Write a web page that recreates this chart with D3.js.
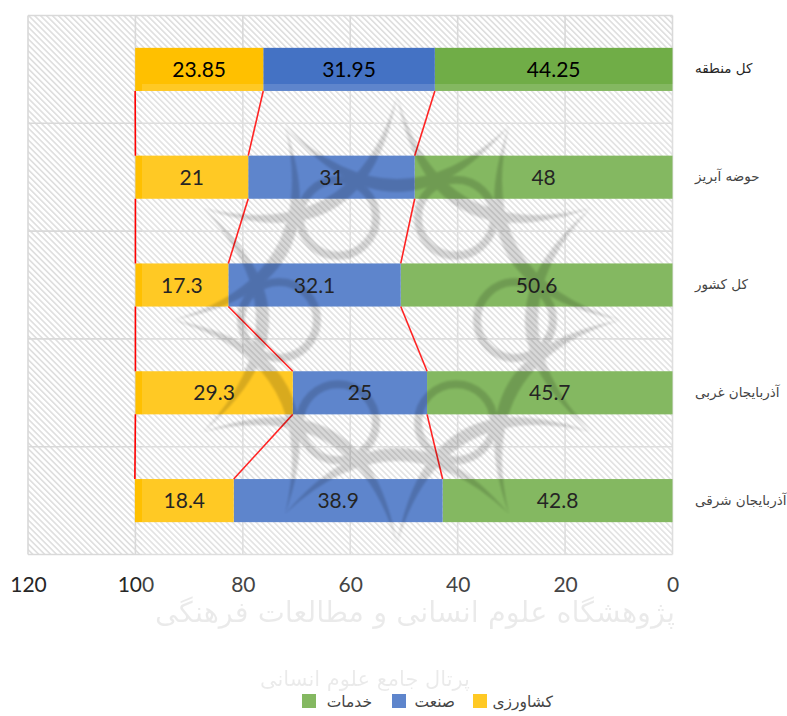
<!DOCTYPE html>
<html><head><meta charset="utf-8">
<script src="https://cdn.jsdelivr.net/npm/d3@7/dist/d3.min.js"></script>
<style>html,body{margin:0;padding:0;background:#fff;overflow:hidden}svg{display:block}</style>
</head><body><svg id="c" width="787" height="716"></svg>
<script>
const categories = ["کل منطقه","حوضه آبریز","کل کشور","آذربایجان غربی","آذربایجان شرقی"];
const seriesNames = ["خدمات","صنعت","کشاورزی"];
const services = [44.25,48,50.6,45.7,42.8];
const industry = [31.95,31,32.1,25,38.9];
const agriculture = [23.85,21,17.3,29.3,18.4];
const colors = ["#70AD47","#4472C4","#FFC000"];
const xTicks = [0,20,40,60,80,100,120];

const svg = d3.select("#c");
const L=28,R=672.5,T=15.5,B=554.5;
const x = d3.scaleLinear().domain([0,120]).range([R,L]);
const y = d3.scaleBand().domain(categories).range([T,B]).paddingInner(0.6).paddingOuter(0.3);
const step = y.step();

const defs = svg.append("defs");
const pat = defs.append("pattern").attr("id","hatch").attr("width",4.2).attr("height",4.2)
  .attr("patternUnits","userSpaceOnUse").attr("patternTransform","rotate(-45)");
pat.append("rect").attr("width",4.2).attr("height",4.2).attr("fill","#fff");
pat.append("rect").attr("width",1.6).attr("height",4.2).attr("fill","#dedede");
defs.append("filter").attr("id","soft").append("feGaussianBlur").attr("stdDeviation",1);

// plot background, gridlines
svg.append("rect").attr("x",L).attr("y",T).attr("width",R-L).attr("height",B-T).attr("fill","url(#hatch)");
const grid = svg.append("g").attr("stroke","#d9d9d9").attr("stroke-width",1.6);
xTicks.forEach(t=>grid.append("line").attr("x1",x(t)).attr("x2",x(t)).attr("y1",T).attr("y2",B));
categories.forEach((c,i)=>grid.append("line").attr("x1",L).attr("x2",R)
  .attr("y1",T+i*step).attr("y2",T+i*step));
grid.append("line").attr("x1",L).attr("x2",R).attr("y1",B).attr("y2",B);

// stacked bars
const rows = categories.map((c,i)=>({cat:c,0:services[i],1:industry[i],2:agriculture[i]}));
const stack = d3.stack().keys([0,1,2])(rows);
const g = svg.append("g");
stack.forEach((s,k)=>{
  g.selectAll(null).data(s).join("rect")
    .attr("x",d=>x(d[1])).attr("width",d=>x(d[0])-x(d[1]))
    .attr("y",d=>y(d.data.cat)).attr("height",y.bandwidth()).attr("fill",colors[k]);
});

// series lines between bars
stack.forEach(s=>{
  for(let i=0;i<s.length-1;i++){
    svg.append("line").attr("stroke","#ff0000").attr("stroke-width",1.6)
      .attr("x1",x(s[i][1])).attr("x2",x(s[i+1][1]))
      .attr("y1",y(s[i].data.cat)+y.bandwidth()).attr("y2",y(s[i+1].data.cat));
  }
});

// data labels
stack.forEach((s,k)=>{
  svg.selectAll(null).data(s).join("text")
    .attr("x",d=>(x(d[0])+x(d[1]))/2).attr("y",d=>y(d.data.cat)+y.bandwidth()/2+7.5)
    .attr("text-anchor","middle").attr("font-family","Lato").attr("font-size",21).attr("fill","#000")
    .text(d=>+(d[1]-d[0]).toFixed(2));
});

// axis
const ax = svg.append("g").attr("transform",`translate(0,${B})`)
  .call(d3.axisBottom(x).tickValues(xTicks).tickSize(0).tickPadding(23));
ax.select(".domain").remove();
ax.selectAll("text").attr("font-family","Lato").attr("font-size",21).attr("fill","#262626");

// category labels
svg.selectAll(null).data(categories).join("text")
  .attr("x",695).attr("y",d=>y(d)+y.bandwidth()/2+4)
  .attr("text-anchor","start").attr("font-family","DejaVu Sans").attr("font-size",13.5).attr("fill","#262626")
  .text(d=>d);

// legend
const legend = [{i:2,sx:473,tx:553},{i:1,sx:392,tx:455},{i:0,sx:302,tx:372}];
legend.forEach(l=>{
  svg.append("rect").attr("x",l.sx).attr("y",694).attr("width",14).attr("height",14).attr("fill",colors[l.i]);
  svg.append("text").attr("x",l.tx).attr("y",707).attr("text-anchor","end")
    .attr("font-family","DejaVu Sans").attr("font-size",15.5).attr("fill","#262626").text(seriesNames[l.i]);
});

// watermark veil and logo
svg.append("rect").attr("x",142).attr("y",84).attr("width",645).attr("height",632).attr("fill","#fff").attr("opacity",0.14);
const cx=397,cy=320,Rt=224;
const wm = svg.append("g").attr("transform",`translate(${cx},${cy})`).attr("opacity",0.15).attr("filter","url(#soft)");
const pt=(a,r)=>[r*Math.sin(a),-r*Math.cos(a)];
d3.range(12).forEach(i=>{
  const a0=i*Math.PI/6,a1=(i+2)*Math.PI/6,am=(i+1)*Math.PI/6;
  const p0=pt(a0,Rt),p1=pt(a1,Rt),c1=pt(am,62),c2=pt(am,88);
  wm.append("path").attr("d",`M${p0}Q${c1} ${p1}Q${c2} ${p0}Z`).attr("fill","#000");
});
d3.range(6).forEach(i=>{
  const p=pt(i*Math.PI/3+Math.PI/6,118);
  wm.append("circle").attr("cx",p[0]).attr("cy",p[1]).attr("r",38)
    .attr("fill","none").attr("stroke","#000").attr("stroke-width",8);
});

// calligraphic footer watermark
const wt = svg.append("g").attr("fill","#000").attr("opacity",0.08).attr("font-family","DejaVu Sans").attr("text-anchor","middle");
const fit=(sel,w)=>{const n=sel.node();const l=n.getComputedTextLength();const fs=+sel.attr("font-size");sel.attr("font-size",fs*w/l);};
const t1=wt.append("text").attr("x",415).attr("y",622).attr("font-size",30).text("پژوهشگاه علوم انسانی و مطالعات فرهنگی");
fit(t1,520);
const t2=wt.append("text").attr("x",365).attr("y",686).attr("font-size",20).text("پرتال جامع علوم انسانی");
fit(t2,210);
</script></body></html>
